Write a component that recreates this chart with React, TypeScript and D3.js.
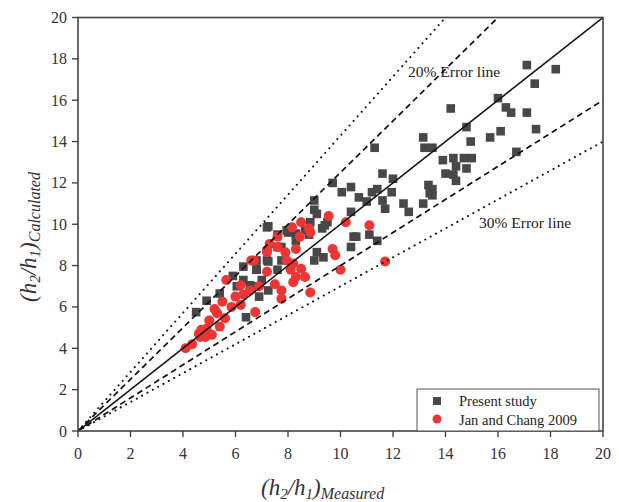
import React from "react";
import * as d3 from "d3";

const presentX = [17.1,18.2,17.4,14.2,16.0,16.3,16.5,17.1,14.8,16.1,17.45,14.96,15.7,16.7,13.5,13.9,14.3,14.7,15.0,14.4,14.8,14.3,14.4,13.5,13.5,
13.15,13.2,11.3,9.7,11.6,12.0,10.05,10.4,10.7,11.0,11.2,11.4,11.95,11.6,11.7,13.35,13.4,13.15,12.4,12.6,14.0,9.0,9.0,10.4,9.5,9.3,10.5,11.1,
9.4,10.6,10.4,11.4,7.25,8.0,7.75,8.8,9.1,9.0,9.35,6.8,7.2,6.8,7.0,6.8,7.6,7.75,7.25,
7.6,8.3,7.6,7.25,6.3,6.8,5.9,6.3,6.55,6.9,6.05,5.4,4.9,4.5,6.4,8.3,7.2,9.1,8.85,8.65,7.95];
const presentY = [17.7,17.5,16.8,15.6,16.1,15.65,15.4,15.4,14.7,14.5,14.6,14.0,14.2,13.5,13.7,13.1,13.2,13.2,13.2,12.8,12.7,12.4,12.1,11.7,11.4,
14.2,13.7,13.7,12.0,12.45,12.2,11.55,11.8,11.3,11.1,11.55,11.7,11.55,11.15,10.75,11.9,11.5,11.0,11.0,10.6,12.45,11.15,10.7,10.6,10.1,9.8,9.4,9.5,
9.95,9.4,8.9,9.2,9.9,9.6,8.9,9.5,8.65,8.25,8.4,8.25,8.25,7.8,7.3,7.0,7.8,8.25,6.8,
9.5,9.2,8.9,8.2,7.95,7.85,7.5,7.3,7.05,6.5,7.0,6.65,6.3,5.75,5.5,9.55,9.85,10.5,10.1,9.7,9.7];

const janX = [9.55,8.5,8.15,8.8,8.85,10.2,11.1,8.45,7.6,7.3,7.2,7.9,7.95,9.7,9.8,6.7,7.2,8.1,8.5,8.65,8.2,10.0,11.7,7.5,7.75,8.85,7.75,6.9,6.75,8.3,
5.65,6.2,6.55,8.3,5.5,6.0,5.85,6.2,5.3,5.0,5.6,4.9,4.7,5.4,4.65,7.2,6.6,4.6,4.1,4.35,4.85,5.1,7.6,8.2,6.3,5.2];
const janY = [10.4,10.1,9.85,9.8,9.6,10.1,9.95,9.4,9.4,9.05,8.65,8.65,8.25,8.8,8.5,8.25,7.7,7.8,7.85,7.45,7.2,7.8,8.2,7.1,6.8,6.7,6.4,7.0,5.75,8.8,
7.3,7.05,6.8,7.45,6.25,6.5,6.0,6.1,5.7,5.35,5.45,4.95,4.9,5.05,4.55,8.75,8.25,4.7,4.0,4.2,4.55,4.65,8.9,8.1,6.6,5.9];

const ticks = [0,2,4,6,8,10,12,14,16,18,20];
const slopes = [1/0.7, 1/0.8, 1, 0.8, 0.7];
const slopeStyles = ["dot","dash","solid","dash","dot"];

export default function App() {
  const x = d3.scaleLinear().domain([0,20]).range([78,603]);
  const y = d3.scaleLinear().domain([0,20]).range([431,17.5]);
  const line = d3.line<[number,number]>().x(d=>x(d[0])).y(d=>y(d[1]));
  const axisColor = "#444";
  const font = "'Liberation Serif', 'Times New Roman', serif";
  return (
    <div style={{position:"absolute", left:0, top:0}}>
      <svg width={619} height={502} style={{display:"block", background:"#fff"}} fontFamily={font}>
        <defs>
          <clipPath id="plot"><rect x={78} y={17.5} width={525} height={413.5}/></clipPath>
        </defs>
        <g>
          {presentX.map((v,i)=>(
            <rect key={"p"+i} x={x(v)-4.3} y={y(presentY[i])-4.3} width={8.6} height={8.6} fill="#484848"/>
          ))}
          {janX.map((v,i)=>(
            <circle key={"j"+i} cx={x(v)} cy={y(janY[i])} r={5} fill="#ee3535"/>
          ))}
        </g>
        <g clipPath="url(#plot)">
          {slopes.map((s,i)=>{
            const st = slopeStyles[i];
            return <path key={i} d={line([[0,0],[20,20*s]]) as string} fill="none" stroke="#111"
              strokeWidth={st==="solid"?1.5:st==="dash"?1.7:2}
              strokeDasharray={st==="dash"?"6,4":st==="dot"?"0.1,6":undefined}
              strokeLinecap={st==="dot"?"round":"butt"}/>;
          })}
        </g>
        <rect x={78} y={17.5} width={525} height={413.5} fill="none" stroke={axisColor} strokeWidth={1.6}/>
        {ticks.map(t=>(
          <g key={"xt"+t}>
            <line x1={x(t)} x2={x(t)} y1={431} y2={437} stroke={axisColor} strokeWidth={1.4}/>
            <text x={x(t)} y={459} textAnchor="middle" fontSize={16} fill="#333">{t}</text>
          </g>
        ))}
        {ticks.map(t=>(
          <g key={"yt"+t}>
            <line x1={72} x2={78} y1={y(t)} y2={y(t)} stroke={axisColor} strokeWidth={1.4}/>
            <text x={67} y={y(t)+5.5} textAnchor="end" fontSize={16} fill="#333">{t}</text>
          </g>
        ))}
        <text x={408} y={77} fontSize={15.5} fill="#222">20% Error line</text>
        <text x={479} y={228} fontSize={15.5} fill="#222">30% Error line</text>
        <rect x={417} y={389} width={182} height={42} fill="#fff" stroke="#555" strokeWidth={1}/>
        <rect x={433} y={397} width={8} height={8} fill="#484848"/>
        <circle cx={437} cy={419} r={4.5} fill="#ee3535"/>
        <text x={459} y={406} fontSize={14.5} fill="#222">Present study</text>
        <text x={459} y={425} fontSize={14.5} fill="#222">Jan and Chang 2009</text>
        <text x={261} y={495} fontSize={23} fontStyle="italic" fill="#333">
          (h<tspan fontSize={15} dy={4}>2</tspan><tspan dy={-4}>/h</tspan><tspan fontSize={15} dy={4}>1</tspan><tspan dy={-4}>)</tspan><tspan fontSize={16} dy={4}>Measured</tspan>
        </text>
        <text transform="translate(36,302) rotate(-90)" x={0} y={0} fontSize={23} fontStyle="italic" fill="#333">
          (h<tspan fontSize={15} dy={4}>2</tspan><tspan dy={-4}>/h</tspan><tspan fontSize={15} dy={4}>1</tspan><tspan dy={-4}>)</tspan><tspan fontSize={16} dy={4}>Calculated</tspan>
        </text>
      </svg>
    </div>
  );
}
